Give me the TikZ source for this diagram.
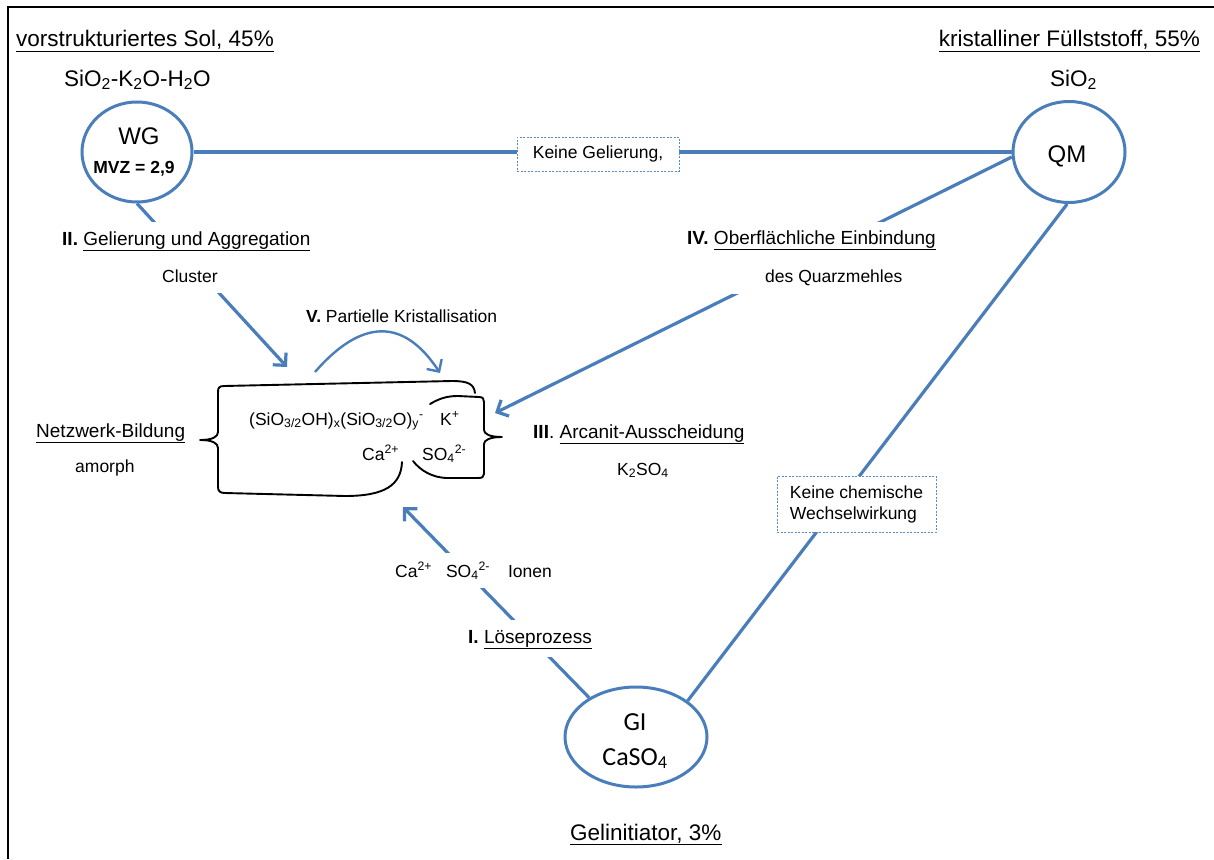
\documentclass[tikz,border=0pt]{standalone}
\usepackage{fontspec}
\setmainfont{Liberation Sans}
\newfontfamily\calib{Carlito}
\usetikzlibrary{shapes.geometric,arrows.meta}
\definecolor{lblue}{HTML}{4A7EBB}
\newcommand\fsS{\fontsize{17.5pt}{21pt}\selectfont}
\newcommand\fsM{\fontsize{19pt}{23pt}\selectfont}
\newcommand\fsL{\fontsize{22.5pt}{26pt}\selectfont}
\newcommand\fsXL{\fontsize{24pt}{28pt}\selectfont}
\newcommand\sbs[1]{\textsubscript{#1}}
\newcommand\sps[1]{\textsuperscript{#1}}
\begin{document}
\begin{tikzpicture}[x=1pt,y=-1pt,
  conn/.style={draw=lblue, line width=3.2pt},
  arr/.style={conn, -{Straight Barb[length=9pt,width=18pt]}},
  oval/.style={ellipse, draw=lblue, line width=3pt, inner sep=0, fill=white},
  dbox/.style={draw=lblue!90, line width=0.9pt, dash pattern=on 2pt off 1.5pt, fill=white, inner sep=0},
  cover/.style={fill=white, inner sep=0},
  txt/.style={inner sep=0, anchor=base west},
  ctxt/.style={inner sep=0, anchor=base},
  brace/.style={draw=black, line width=1.9pt, line cap=round, line join=round}]
\useasboundingbox (0,0) rectangle (1214,859);
\fill[white] (0,0) rectangle (1214,859);
\draw[line width=1.4pt] (8,859) -- (8,7) -- (1214,7);

% ovals
\node[oval, minimum width=110, minimum height=100] (WG) at (137,152) {};
\node[oval, minimum width=112, minimum height=101] (QM) at (1069,152) {};
\node[oval, minimum width=142, minimum height=100] (GI) at (636,737) {};

% connectors
\coordinate (tII) at (287,367);
\coordinate (tIV) at (495,413);
\coordinate (tI) at (403,507);
\coordinate (V1) at (315,372);
\coordinate (V2) at (440,373);
\draw[conn] (WG.east) -- (QM.west);
\draw[arr] (WG.south) -- (tII);
\draw[arr] (QM.185) -- (tIV);
\draw[arr] (GI.140) -- (tI);
\draw[conn] (QM.268) -- (GI.35);
\draw[arr, line width=2.4pt] (V1) .. controls (362,318) and (404,318) .. (V2);

% brace
\draw[brace] (475,393) .. controls (474,384) and (468,381) .. (452,381) -- (224,386)
  .. controls (219,386) and (218,388) .. (218,392) -- (218,432)
  .. controls (218,437) and (212,440) .. (200,440)
  .. controls (212,440) and (218,443) .. (218,448) -- (218,487)
  .. controls (218,491) and (220,493) .. (225,493) -- (345,496)
  .. controls (385,496) and (401,485) .. (402,462);
\draw[brace] (430,404) .. controls (440,398) and (448,396) .. (458,396) -- (479,397)
  .. controls (483,397) and (484,399) .. (484,402) -- (484,430)
  .. controls (484,434) and (490,437) .. (502,437)
  .. controls (490,437) and (484,440) .. (484,444) -- (484,474)
  .. controls (484,477) and (482,478) .. (478,478) -- (448,478)
  .. controls (432,478) and (420,470) .. (413,461);

% white backgrounds of labels on connectors
\node[cover, minimum width=262, minimum height=71] (IIbg) at (188,257.5) {};
\node[cover, minimum width=265, minimum height=72] (IVbg) at (812,258) {};
\node[cover, minimum width=160, minimum height=35] (Ibg) at (470,570.5) {};
\node[cover, minimum width=140, minimum height=37] (Lbg) at (530,638.5) {};
\node[dbox, font=\fsS, minimum width=162, minimum height=34] (KG) at (598,154) {Keine Gelierung,\hspace{8pt}};
\node[dbox, font=\fsS, minimum width=159, minimum height=56, align=left] (KC) at (856.5,504)
  {Keine chemische\\Wechselwirkung};

% oval texts
\node[ctxt] (WGt) at (139,144) {\fsXL WG};
\node[ctxt] (MVZ) at (134,173) {\fsS\bfseries MVZ = 2,9};
\node[ctxt] (QMt) at (1067,162) {\fsXL QM};
\node[ctxt] (GIt) at (635,730) {\calib\fontsize{26pt}{30pt}\selectfont GI};
\node[ctxt] (CaS) at (635,765) {\calib\fontsize{26pt}{30pt}\selectfont CaSO\sbs{4}};

% headers
\node[txt] (h1) at (16,47) {\fsL\underline{vorstrukturiertes Sol, 45\%}};
\node[txt] (h1f) at (64,86) {\fsL SiO\sbs{2}-K\sbs{2}O-H\sbs{2}O};
\node[inner sep=0, anchor=base east] (h2) at (1200,47) {\fsL\underline{kristalliner Füllststoff, 55\%}};
\node[txt] (h2f) at (1050,86) {\fsL SiO\sbs{2}};
\node[txt] (h3) at (570,840) {\fsL\underline{Gelinitiator, 3\%}};

% process labels
\node[txt] (II) at (62,245) {\fsM\textbf{II.} \underline{Gelierung und Aggregation}};
\node[txt] (Cl) at (162,282) {\fsS Cluster};
\node[txt] (IV) at (687,244) {\fsM\textbf{IV.} \underline{Oberflächliche Einbindung}};
\node[txt] (dQ) at (765,282) {\fsS des Quarzmehles};
\node[txt] (V) at (306,322) {\fsS\textbf{V.} Partielle Kristallisation};
\node[txt] (NB) at (36,437) {\fsM\underline{Netzwerk-Bildung}};
\node[txt] (am) at (75,472) {\fsS amorph};
\node[txt] (III) at (533,438) {\fsM\textbf{III}. \underline{Arcanit-Ausscheidung}};
\node[txt] (KSO) at (617,475) {\fsS K\sbs{2}SO\sbs{4}};
\node[txt] (net) at (249,425) {\fsS (SiO\sbs{3/2}OH)\sbs{x}(SiO\sbs{3/2}O)\sbs{y}\sps{-}};
\node[txt] (Kp) at (440,425) {\fsS K\sps{+}};
\node[txt] (Ca) at (362,460) {\fsS Ca\sps{2+}};
\node[txt] (SO) at (422,460) {\fsS SO\sbs{4}\sps{2-}};
\node[txt] (ions) at (395,577) {\fsS Ca\sps{2+}\hspace{14pt}SO\sbs{4}\sps{2-}\hspace{18pt}Ionen};
\node[txt] (I) at (468,643) {\fsM\textbf{I.} \underline{Löseprozess}};
\end{tikzpicture}
\end{document}
